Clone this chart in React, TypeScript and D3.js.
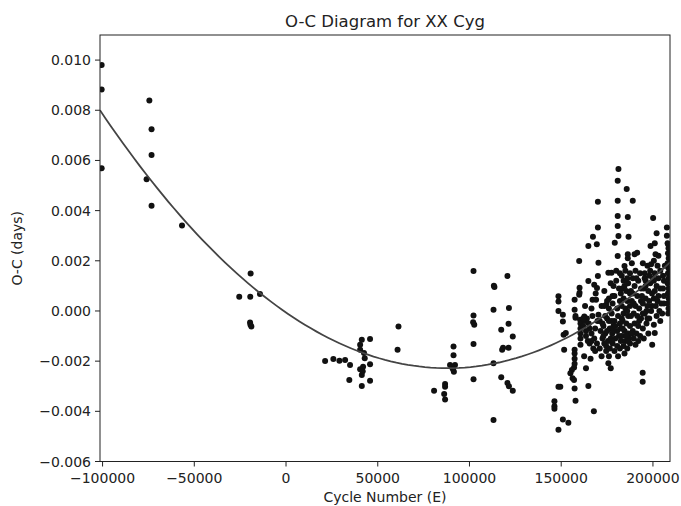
import React from "react";
import * as d3 from "d3";

// ---- Data (cycle number E, O-C in days) ----
const leftE = [-100500, -100500, -100500, -74500, -73300, -73300, -76000, -73300, -56700,
  -19300, -25500, -19500, -14200, -19600, -19400, -18900];
const leftOC = [0.0098, 0.00883, 0.00569, 0.00839, 0.00724, 0.00622, 0.00525, 0.00419, 0.00341,
  0.00149, 0.00057, 0.00057, 0.00068, -0.00046, -0.00055, -0.00062];

const midE = [21300, 25800, 29100, 32200, 34900, 34500,
  41300, 45800, 40400, 40400, 42500, 42900, 45800, 42000, 40400, 41300, 45800, 41300, 41800,
  61300, 60800,
  80700, 86700, 86700, 86200, 86700,
  91300, 91300, 89400, 92100, 90500, 91500, 91000,
  102200, 102200, 102600, 102000, 102200, 102200,
  113300, 113600, 113100, 113100, 113100,
  120700, 121500, 121300, 117300, 123600, 118300, 117800, 121300, 117300, 120700, 121500, 123600];
const midOC = [-0.00199, -0.00191, -0.00198, -0.00195, -0.00215, -0.00275,
  -0.00115, -0.00112, -0.00135, -0.00155, -0.00168, -0.00188, -0.00212, -0.00222, -0.00232, -0.00255, -0.00278, -0.00299, -0.0024,
  -0.00062, -0.00155,
  -0.00318, -0.00291, -0.00302, -0.00331, -0.00353,
  -0.00142, -0.00176, -0.00215, -0.00215, -0.00224, -0.00242, -0.00232,
  0.00159, -0.00018, -0.00055, -0.00045, -0.00132, -0.00272,
  0.00101, 0.00096, 0.00005, -0.00208, -0.00435,
  0.00139, 0.00012, -0.00051, -0.00075, -0.00102, -0.00147, -0.00155, -0.00147, -0.00264, -0.00287, -0.003, -0.00318];

const rightE = [
  148500, 148500, 148500, 150900, 150900, 151300, 151600, 148500, 149500, 146300, 146300, 146300, 150900, 153900, 148500,
  157300, 157800, 157800, 160300, 160500, 160500, 160500, 160500, 160500, 157300, 157300, 157300, 157300, 157000, 155800, 155000, 156200, 157000, 157300, 157800, 152500,
  159800, 160000, 160000, 159800, 157300, 162600, 163000, 162000, 163500, 164500,
  164800, 164800, 169400, 168000, 167100, 169000, 169500, 170000, 164000, 165500, 166500, 165500, 167500, 162500, 163500, 164800, 167800, 166000, 168000,
  170000, 170000, 167300,
  170300, 175700, 170300, 172000, 174500, 171000, 173000, 175000, 171500, 174000, 176500, 172500, 175500, 173500, 177000, 171000, 174500, 176000, 175700, 172000, 176000, 173500, 177000,
  181200, 180800, 185700, 180800, 189000, 180800, 186300, 180800, 181200, 186700, 179200, 180800, 186300, 186300, 184500, 177400, 180000, 182000, 180000, 178500, 181500, 179000, 182000, 178000, 180500, 177500, 181000, 179000, 182000, 178500, 180500, 177800, 181500, 179500, 182500, 178000, 180500, 182000, 179000, 181000, 177000, 182500,
  183000, 185000, 187500, 184000, 186500, 183500, 185500, 187500, 184000, 186000, 183000, 185000, 187500, 184000, 186500, 183500, 185500, 187500, 184500, 186500, 183000, 185000, 187000, 184000, 186000,
  191400, 190000, 188500, 190500, 193000, 189000, 192000, 190000, 193500, 189000, 191500, 193500, 188500, 190500, 192500, 189500, 191500, 193500, 190000, 192000, 189000, 191000, 193000, 190500, 192000,
  198700, 201400, 194500, 197000, 199000, 195500, 198000, 200000, 196000, 198500, 195000, 197500, 199500, 196000, 198000, 194500, 197000, 199000, 195500, 198000, 196500, 194500, 197500, 195000, 194400, 194400, 199600, 200500, 201000,
  200100, 202000, 201000, 203000, 200500, 202500, 204000, 201000, 203000, 200500, 202000, 204000, 201000, 203000, 200500, 202500, 204500, 201500, 203500, 202000, 204000,
  207600, 207600, 208300, 208000, 208500, 208200, 208600, 208000, 208500, 208200, 208600, 208000, 208500, 208200, 208600, 208000, 208500, 208300, 206000, 206000, 205500, 206500, 205500, 206000, 205000,
  162000, 163500, 165000, 166500, 168500, 169500, 168500, 166500, 167000, 169800, 163000, 168800,
  172500, 174000, 176000, 173000, 175000, 177500, 174500, 176500, 178500, 179500, 177500, 173500, 176000, 178000, 175000,
  183500, 185500, 187500, 184500, 186500, 188500, 189500, 183000, 186000, 188000, 189500, 188000, 184500, 186000, 182500,
  192500, 194500, 196500, 194000, 196000, 198500, 191000, 195500, 199500, 197000];
const rightOC = [
  0.00059, 0.00038, 0.0, -0.00015, -0.00042, -0.00095, -0.00155, -0.00302, -0.00302, -0.0036, -0.0038, -0.0039, -0.00433, -0.00446, -0.00473,
  0.00045, -0.00027, -0.0002, -0.00035, -0.0005, -0.0007, -0.0009, -0.0011, -0.00135, -0.00155, -0.0017, -0.0019, -0.0021, -0.00225, -0.00235, -0.00248, -0.00268, -0.00275, -0.00309, -0.00358, -0.00088,
  0.00199, 0.00093, 0.00073, 0.00065, 0.00005, -0.00022, -0.0004, -0.0006, -0.001, -0.0012,
  0.00259, 0.00119, 0.00266, 0.00105, 0.00045, 0.00045, 0.00092, 0.00139, -0.0003, -0.0007, -0.0009, -0.0013, -0.0015, -0.0018, -0.00228, -0.00299, -0.004, -0.0019, -0.0011,
  0.00435, 0.00333, 0.00296,
  0.00192, 0.00152, -0.00015, 0.0002, 0.00025, -0.0004, -0.0006, -0.0003, -0.0008, -0.0009, -0.0007, -0.0011, -0.0012, -0.0013, -0.0011, -0.0015, -0.0016, -0.0018, -0.00208, -0.0018, 0.0005, 0.0008, 0.0011,
  0.00566, 0.00519, 0.00486, 0.00439, 0.00439, 0.00379, 0.00375, 0.00339, 0.00299, 0.00296, 0.00272, 0.00219, 0.00226, 0.0021, 0.00179, 0.00152, 0.0016, 0.0015, 0.0012, 0.001, 0.0009, 0.0006, 0.0004, 0.0003, 0.0001, -0.0001, -0.0002, -0.0004, -0.0005, -0.0006, -0.0008, -0.0009, -0.001, -0.0011, -0.0012, -0.0013, -0.0014, -0.0015, -0.0016, -0.0018, -0.00228, -0.0007,
  0.0014, 0.0016, 0.0015, 0.0012, 0.0011, 0.0009, 0.0008, 0.0007, 0.0005, 0.0004, 0.0002, 0.0001, 0.0002, -0.0001, -0.0002, -0.0004, -0.0005, -0.0006, -0.0008, -0.0009, -0.001, -0.0012, -0.0011, -0.0014, -0.0015,
  0.00232, 0.00226, 0.0019, 0.0016, 0.0015, 0.0013, 0.0012, 0.001, 0.0009, 0.0007, 0.0006, 0.0004, 0.0004, 0.0002, 0.0001, -0.0001, -0.0002, -0.0003, -0.0005, -0.0006, -0.0008, -0.0009, -0.001, -0.00135, -0.0012,
  0.00259, 0.00226, 0.0019, 0.0018, 0.00186, 0.0015, 0.0014, 0.0013, 0.0012, 0.0011, 0.0009, 0.0008, 0.0007, 0.0005, 0.0004, 0.0003, 0.0002, 0.0, -0.0001, -0.0003, -0.0005, -0.0007, -0.0009, -0.0011, -0.00246, -0.00282, -0.00135, -0.00055, -0.00088,
  0.00371, 0.0031, 0.0027, 0.0022, 0.002, 0.0018, 0.0016, 0.0015, 0.0013, 0.0012, 0.001, 0.0009, 0.0008, 0.0006, 0.0005, 0.0004, 0.0003, 0.0002, 0.0, -0.0002, -0.0004,
  0.00333, 0.003, 0.00266, 0.0027, 0.0025, 0.0023, 0.0021, 0.0019, 0.0017, 0.0015, 0.0013, 0.0011, 0.0009, 0.0007, 0.0005, 0.0003, 0.0001, -0.0001, 0.0006, 0.0012, 0.0009, 0.0018, 0.0014, 0.0003, -0.0001,
  -0.0003, -0.0008, -0.0005, -0.0012, -0.0007, -0.0013, -0.0016, 0.0001, -0.0002, -0.0004, 0.0002, 0.0007,
  -0.0005, -0.0002, -0.0004, -0.001, -0.0008, -0.0012, -0.0014, -0.0015, -0.0008, -0.0006, -0.0004, 0.0002, 0.0001, 0.0006, 0.0004,
  -0.0007, -0.001, -0.0013, -0.0017, -0.0012, -0.0009, -0.0011, -0.0003, 0.0, -0.0002, 0.0003, 0.0008, 0.001, 0.0013, 0.0007,
  -0.0004, -0.0001, 0.0, 0.0006, 0.001, 0.0016, 0.0013, 0.0013, 0.0002, -0.0003];

// Quadratic fit coefficients: OC = c0 + c1*E + c2*E^2
const fitCoef = [-0.000061, -5.044e-8, 2.866e-13];

const xTicks = [-100000, -50000, 0, 50000, 100000, 150000, 200000];
const yTicks = [-0.006, -0.004, -0.002, 0.0, 0.002, 0.004, 0.006, 0.008, 0.01];

const W = 681, H = 506;
const M = { left: 100, right: 670, top: 35, bottom: 461.5 };

export default function App() {
  const x = d3.scaleLinear().domain([-101400, 209300]).range([M.left, M.right]);
  const y = d3.scaleLinear().domain([-0.006, 0.011]).range([M.bottom, M.top]);

  const pts: [number, number][] = [];
  [[leftE, leftOC], [midE, midOC], [rightE, rightOC]].forEach(([es, os]) => {
    es.forEach((e, i) => pts.push([e, os[i]]));
  });

  const fitE = d3.range(101).map((i) => -101400 + (i / 100) * (209300 + 101400));
  const fitLine = d3
    .line<number>()
    .x((e) => x(e))
    .y((e) => y(fitCoef[0] + fitCoef[1] * e + fitCoef[2] * e * e));

  const fx = d3.format("d");
  const fy = d3.format(".3f");
  const font = "DejaVu Sans, sans-serif";

  return (
    <svg width={W} height={H} style={{ position: "absolute", left: 0, top: 0, background: "#fff" }} fontFamily={font}>
      <defs>
        <clipPath id="plotclip">
          <rect x={M.left} y={M.top} width={M.right - M.left} height={M.bottom - M.top} />
        </clipPath>
      </defs>
      <rect x={0} y={0} width={W} height={H} fill="#fff" />
      <g clipPath="url(#plotclip)">
        {pts.map(([e, o], i) => (
          <circle key={i} cx={x(e)} cy={y(o)} r={3} fill="#111" />
        ))}
        <path d={fitLine(fitE) || ""} fill="none" stroke="#444" strokeWidth={1.8} />
      </g>
      <rect x={M.left} y={M.top} width={M.right - M.left} height={M.bottom - M.top} fill="none" stroke="#222" strokeWidth={1} />
      {xTicks.map((t) => (
        <g key={t}>
          <line x1={x(t)} x2={x(t)} y1={M.bottom} y2={M.bottom + 5} stroke="#222" />
          <text x={x(t)} y={M.bottom + 21} textAnchor="middle" fontSize={14} fill="#222">{fx(t)}</text>
        </g>
      ))}
      {yTicks.map((t) => (
        <g key={t}>
          <line x1={M.left - 5} x2={M.left} y1={y(t)} y2={y(t)} stroke="#222" />
          <text x={M.left - 9} y={y(t) + 5} textAnchor="end" fontSize={14} fill="#222">{fy(t)}</text>
        </g>
      ))}
      <text x={(M.left + M.right) / 2} y={27} textAnchor="middle" fontSize={16.5} fill="#222">O-C Diagram for XX Cyg</text>
      <text x={(M.left + M.right) / 2} y={502} textAnchor="middle" fontSize={14} fill="#222">Cycle Number (E)</text>
      <text transform={`translate(22, ${(M.top + M.bottom) / 2}) rotate(-90)`} textAnchor="middle" fontSize={14} fill="#222">O-C (days)</text>
    </svg>
  );
}
